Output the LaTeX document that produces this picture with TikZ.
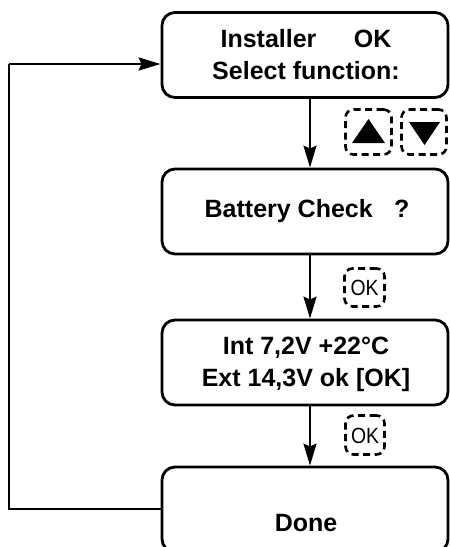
\documentclass[tikz,border=0pt]{standalone}
\usepackage{fontspec}
\setmainfont{Liberation Sans}
\newfontfamily\keyfont[FakeStretch=0.88]{Liberation Sans}
\usetikzlibrary{arrows.meta}
\begin{document}
\begin{tikzpicture}[x=1pt,y=-1pt,
 screen/.style={draw, line width=2.8pt, rounded corners=13pt, minimum width=286pt, minimum height=85pt, inner sep=0pt},
 lbl/.style={font=\bfseries\fontsize{25}{32}\selectfont, align=center, inner sep=0pt},
 keybox/.style={draw, line width=2.6pt, rounded corners=8pt, dash pattern=on 7pt off 4.5pt, inner sep=0pt},
 keytxt/.style={font=\keyfont\fontsize{22}{24}\selectfont, inner sep=0pt},
 flow/.style={line width=2.6pt, -{Stealth[length=22pt,width=13pt,inset=3pt]}},
 link/.style={line width=2.6pt}
]
\useasboundingbox (0,0) rectangle (450,547);
% screens
\node[screen] (b1) at (305,55) {};
\node[lbl] (t1) at (306,55) {Installer\hspace{1.5em}OK\\Select function:};
\node[screen] (b2) at (305,211.5) {};
\node[lbl] (t2) at (307,211) {Battery Check\hspace{0.85em}?};
\node[screen] (b3) at (305,362.5) {};
\node[lbl] (t3) at (306,364) {Int 7,2V +22°C\\Ext 14,3V ok [OK]};
\node[screen] (b4) at (305,509.5) {};
\node[lbl] (t4) at (306,523) {Done};
% arrow axis
\coordinate (ax) at (310,0);
\draw[flow] (b1.south -| ax) -- (b2.north -| ax);
\draw[flow] (b2.south -| ax) -- (b3.north -| ax);
\draw[flow] (b3.south -| ax) -- (b4.north -| ax);
% loop back
\coordinate (lb) at (162,509);
\coordinate (lt) at (162,64);
\coordinate (c1) at (9,509);
\coordinate (c2) at (9,64);
\draw[link] (b4.west |- lb) -- (c1) -- (c2);
\draw[flow] (c2) -- (b1.west |- lt);
% keys
\node[keybox, minimum width=46pt, minimum height=45pt] (kup) at (368.5,132) {};
\fill (352,143) -- (385,143) -- (368.5,119) -- cycle;
\node[keybox, minimum width=45pt, minimum height=45pt] (kdn) at (424,132) {};
\fill (409,122) -- (440,122) -- (424.5,145) -- cycle;
\node[keybox, minimum width=40pt, minimum height=38pt] (ok1) at (364.5,287.5) {};
\node[keytxt] (ok1t) at (364.5,288) {OK};
\node[keybox, minimum width=39pt, minimum height=39pt] (ok2) at (365,435) {};
\node[keytxt] (ok2t) at (365,435.5) {OK};
\end{tikzpicture}
\end{document}
